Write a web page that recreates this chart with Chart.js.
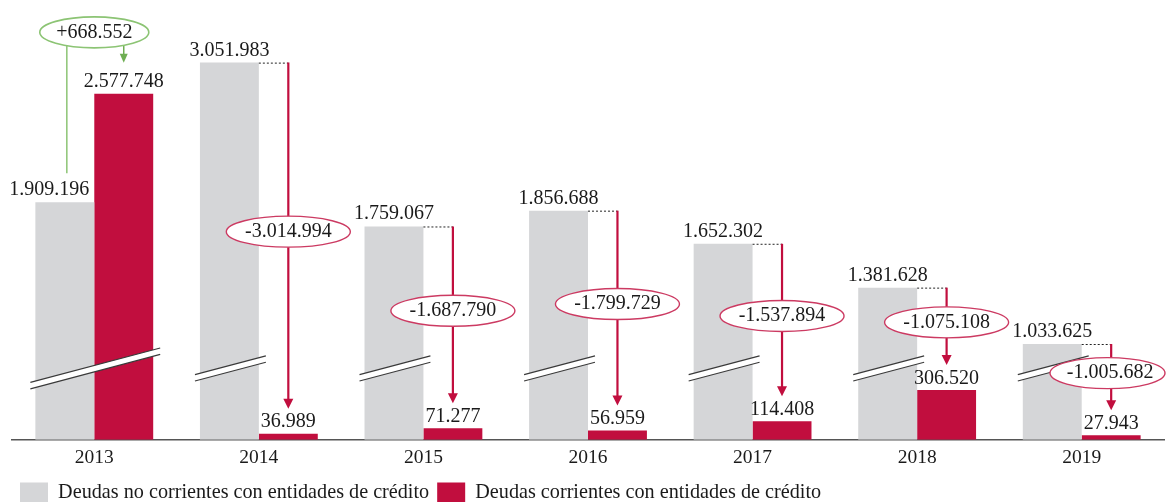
<!DOCTYPE html>
<html><head><meta charset="utf-8">
<script src="https://cdn.jsdelivr.net/npm/chart.js@4.4.1/dist/chart.umd.min.js"></script>
<style>html,body{margin:0;padding:0;background:#fff;overflow:hidden;}</style>
</head><body>
<canvas id="c" width="1167" height="502"></canvas>
<script>
// ---- data ----
const categories = ['2013', '2014', '2015', '2016', '2017', '2018', '2019'];
const nonCurrentDebt = [1909196, 3051983, 1759067, 1856688, 1652302, 1381628, 1033625];
const currentDebt = [2577748, 36989, 71277, 56959, 114408, 306520, 27943];
const seriesNames = ['Deudas no corrientes con entidades de crédito', 'Deudas corrientes con entidades de crédito'];
// axis breaks (value ranges removed from the value axis)
const axisBreaks = [{ from: 440000, to: 883000 }, { from: 2650000, to: 2931500 }];

const GRAY = '#d5d6d8';
const RED = '#c10e3e';
const PINK = '#cc3a62';
const GREEN = '#8cc474';
const GREEN_D = '#6eae52';
const FONT = '"Liberation Serif", "Times New Roman", serif';

function fmt(n, sign) {
  const s = Math.abs(Math.round(n)).toString().replace(/\B(?=(\d{3})+(?!\d))/g, '.');
  if (!sign) return (n < 0 ? '-' : '') + s;
  return (n < 0 ? '-' : '+') + s;
}

// ---- broken linear scale ----
class BrokenLinearScale extends Chart.LinearScale {
  _breaks() { return (this.options && this.options.breaks) || []; }
  compress(v) {
    let c = v;
    for (const b of this._breaks()) { if (v > b.from) c -= Math.min(v, b.to) - b.from; }
    return c;
  }
  expand(c) {
    let v = c;
    for (const b of this._breaks()) { if (v > b.from) v += b.to - b.from; }
    return v;
  }
  getPixelForValue(v) {
    if (v === null || v === undefined || isNaN(v)) return NaN;
    return super.getPixelForValue(this.compress(v));
  }
  getValueForPixel(p) { return this.expand(super.getValueForPixel(p)); }
}
BrokenLinearScale.id = 'brokenLinear';
BrokenLinearScale.defaults = Chart.LinearScale.defaults;
Chart.register(BrokenLinearScale);

function ellipseBottomAt(cx, cy, w, h, x) {
  const t = (x - cx) / (w / 2);
  return cy + (h / 2) * Math.sqrt(Math.max(0, 1 - t * t));
}
function drawEllipse(ctx, cx, cy, w, h, stroke, lw) {
  ctx.save();
  ctx.beginPath();
  ctx.ellipse(cx, cy, w / 2, h / 2, 0, 0, Math.PI * 2);
  ctx.fillStyle = '#fff';
  ctx.fill();
  ctx.lineWidth = lw;
  ctx.strokeStyle = stroke;
  ctx.stroke();
  ctx.restore();
}
function drawArrow(ctx, x, y0, tip, color, lw, hw, hh) {
  ctx.save();
  ctx.strokeStyle = color;
  ctx.fillStyle = color;
  ctx.lineWidth = lw;
  ctx.beginPath();
  ctx.moveTo(x, y0);
  ctx.lineTo(x, tip - hh + 1);
  ctx.stroke();
  ctx.beginPath();
  ctx.moveTo(x - hw / 2, tip - hh);
  ctx.lineTo(x + hw / 2, tip - hh);
  ctx.lineTo(x, tip);
  ctx.closePath();
  ctx.fill();
  ctx.restore();
}
function drawBreak(ctx, x0, x1, yc) {
  const k = 0.265, h = 3.2;
  const xc = (x0 + x1) / 2;
  const yAt = x => yc + k * (xc - x);
  ctx.save();
  ctx.beginPath();
  ctx.moveTo(x0, yAt(x0) - h);
  ctx.lineTo(x1, yAt(x1) - h);
  ctx.lineTo(x1, yAt(x1) + h);
  ctx.lineTo(x0, yAt(x0) + h);
  ctx.closePath();
  ctx.fillStyle = '#fff';
  ctx.fill();
  ctx.strokeStyle = '#3a3a3a';
  ctx.lineWidth = 1.2;
  ctx.beginPath();
  ctx.moveTo(x0, yAt(x0) - h); ctx.lineTo(x1, yAt(x1) - h);
  ctx.moveTo(x0, yAt(x0) + h); ctx.lineTo(x1, yAt(x1) + h);
  ctx.stroke();
  ctx.restore();
}

const annotations = {
  id: 'deltaAnnotations',
  afterDatasetsDraw(chart) {
    const ctx = chart.ctx;
    const ys = chart.scales.y;
    const g = chart.getDatasetMeta(0).data;
    const r = chart.getDatasetMeta(1).data;
    const brk = axisBreaks[0];
    const breakY = ys.getPixelForValue(brk.from);

    // break marks
    categories.forEach((c, i) => {
      const bars = [];
      if (nonCurrentDebt[i] > brk.from) bars.push(g[i]);
      if (currentDebt[i] > brk.from) bars.push(r[i]);
      if (!bars.length) return;
      const x0 = Math.min(...bars.map(b => b.x - b.width / 2)) - 5;
      const x1 = Math.max(...bars.map(b => b.x + b.width / 2)) + 7;
      drawBreak(ctx, x0, x1, breakY);
    });

    ctx.save();
    ctx.font = '20px ' + FONT;
    ctx.fillStyle = '#1a1a1a';
    categories.forEach((c, i) => {
      const gb = g[i], rb = r[i];
      const gRight = gb.x + gb.width / 2;
      const delta = currentDebt[i] - nonCurrentDebt[i];

      // value labels
      ctx.textBaseline = 'alphabetic';
      if (delta > 0) { ctx.textAlign = 'right'; ctx.fillText(fmt(nonCurrentDebt[i]), gRight - 5, gb.y - 7); }
      else { ctx.textAlign = 'center'; ctx.fillText(fmt(nonCurrentDebt[i]), gb.x, gb.y - 7); }
      ctx.textAlign = 'center';
      ctx.fillText(fmt(currentDebt[i]), rb.x, rb.y - 6.5);

      if (delta > 0) {
        const cx = (gb.x + rb.x) / 2, cy = rb.y - 61.5, w = 109, h = 31;
        const lx = gb.x + 2;
        ctx.save();
        ctx.strokeStyle = GREEN; ctx.lineWidth = 1.5;
        ctx.beginPath();
        ctx.moveTo(lx, ellipseBottomAt(cx, cy, w, h, lx));
        ctx.lineTo(lx, gb.y - 29);
        ctx.stroke();
        ctx.restore();
        drawArrow(ctx, rb.x, ellipseBottomAt(cx, cy, w, h, rb.x), rb.y - 31, GREEN_D, 1.5, 8, 9);
        drawEllipse(ctx, cx, cy, w, h, GREEN, 1.6);
        ctx.fillStyle = '#1a1a1a';
        ctx.textBaseline = 'middle';
        ctx.fillText(fmt(delta, true), cx, cy);
      } else {
        const ax = rb.x, y0 = gb.y, tip = rb.y - 25;
        // dotted connector
        ctx.save();
        ctx.setLineDash([2, 2]);
        ctx.strokeStyle = '#222'; ctx.lineWidth = 1;
        ctx.beginPath(); ctx.moveTo(gRight, y0 + 0.5); ctx.lineTo(ax, y0 + 0.5); ctx.stroke();
        ctx.restore();
        drawArrow(ctx, ax, y0, tip, RED, 2.2, 10, 10);
        let w = 124, h = 31, cx = ax, tx = ax;
        const cy = (y0 + tip) / 2 - 4;
        if (cx + w / 2 > chart.width - 2) { w = 115; cx = chart.width - 2 - w / 2; tx = ax - 1; }
        drawEllipse(ctx, cx, cy, w, h, PINK, 1.4);
        ctx.fillStyle = '#1a1a1a';
        ctx.textBaseline = 'middle';
        ctx.fillText(fmt(delta, true), tx, cy);
      }
      ctx.fillStyle = '#1a1a1a';
    });
    ctx.restore();
  }
};

new Chart(document.getElementById('c'), {
  type: 'bar',
  data: {
    labels: categories,
    datasets: [
      { label: seriesNames[0], data: nonCurrentDebt, backgroundColor: GRAY, categoryPercentage: 0.716, barPercentage: 1 },
      { label: seriesNames[1], data: currentDebt, backgroundColor: RED, categoryPercentage: 0.716, barPercentage: 1 }
    ]
  },
  options: {
    responsive: false,
    animation: false,
    devicePixelRatio: 1,
    layout: { padding: { left: 12, right: 3, top: 0, bottom: -10.5 } },
    scales: {
      x: {
        grid: { display: false, drawTicks: false },
        border: { display: true, color: '#555', width: 1.5 },
        ticks: { color: '#1a1a1a', padding: 4.3, font: { family: FONT, size: 19.5, lineHeight: 1.4 } },
        afterFit: (s) => { s.height -= 1.3; }
      },
      y: {
        type: 'brokenLinear',
        display: false,
        min: 0,
        max: 2714000,
        breaks: axisBreaks
      }
    },
    plugins: {
      legend: {
        position: 'bottom',
        align: 'start',
        labels: { boxWidth: 28, boxHeight: 20, padding: 8, color: '#1a1a1a', font: { family: FONT, size: 20.2 } }
      },
      tooltip: { enabled: false }
    }
  },
  plugins: [annotations]
});
</script>
</body></html>
